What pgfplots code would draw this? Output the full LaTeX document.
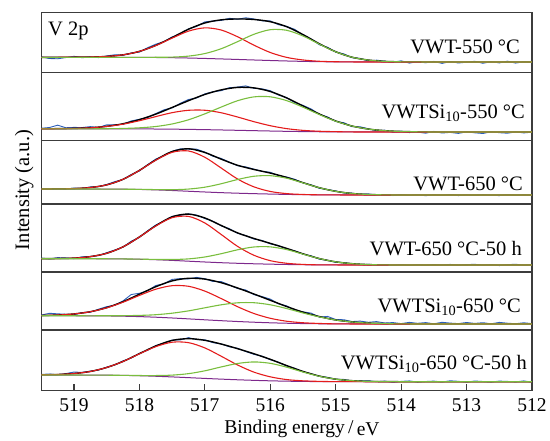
\documentclass[border=0pt]{standalone}
\usepackage{fontspec}
\setmainfont{Liberation Serif}
\usepackage{pgfplots}
\usepackage{pgfplotstable}
\pgfplotsset{compat=1.18}

\definecolor{datablue}{RGB}{45,95,185}
\definecolor{fitred}{RGB}{228,28,28}
\definecolor{fitgreen}{RGB}{122,190,62}
\definecolor{bgpurple}{RGB}{125,40,140}
\definecolor{framegray}{RGB}{60,60,60}

% fitted components per panel: E, Shirley background, red peak, green peak, envelope
\pgfplotstableread{
E bg red green fit
519.5 15.4 15.4 15.4 15.4
519.25 15.4 15.4 15.4 15.4
519.0 15.4 15.5 15.4 15.5
518.75 15.4 15.65 15.4 15.65
518.5 15.39 16.26 15.39 16.26
518.25 15.37 17.87 15.37 17.87
518.0 15.32 21.32 15.32 21.32
517.75 15.21 27.11 15.41 27.31
517.5 15.0 34.6 15.6 35.2
517.25 14.68 41.58 16.58 43.48
517.0 14.25 44.85 19.15 49.75
516.75 13.77 42.67 23.97 52.87
516.5 13.25 35.95 31.05 53.75
516.25 12.72 27.52 38.42 53.22
516.0 12.2 20.2 43.0 51.0
515.75 11.72 15.32 42.42 46.02
515.5 11.33 12.73 36.73 38.13
515.25 11.03 11.43 28.53 28.93
515.0 10.86 10.96 20.86 20.96
514.75 10.76 10.76 15.46 15.46
514.5 10.72 10.72 12.62 12.62
514.25 10.7 10.7 11.3 11.3
514.0 10.7 10.7 10.9 10.9
513.5 10.7 10.7 10.7 10.7
513.0 10.7 10.7 10.7 10.7
512.0 10.7 10.7 10.7 10.7
}\compA

\pgfplotstableread{
E bg red green fit
519.5 11.5 11.54 11.5 11.54
519.25 11.5 11.63 11.5 11.63
519.0 11.5 11.9 11.5 11.9
518.75 11.49 12.49 11.49 12.49
518.5 11.48 13.88 11.58 13.98
518.25 11.45 16.15 11.85 16.55
518.0 11.39 19.59 12.49 20.69
517.75 11.29 23.69 13.79 26.19
517.5 11.14 27.64 16.34 32.84
517.25 10.92 30.02 20.52 39.62
517.0 10.66 30.06 26.46 45.86
516.75 10.34 27.54 33.24 50.44
516.5 9.99 23.29 39.59 52.89
516.25 9.63 18.63 43.43 52.43
516.0 9.29 14.59 43.49 48.79
515.75 8.98 11.68 39.68 42.38
515.5 8.73 9.93 33.13 34.33
515.25 8.55 9.05 25.75 26.25
515.0 8.43 8.63 19.13 19.33
514.75 8.36 8.36 14.26 14.26
514.5 8.33 8.33 11.23 11.23
514.25 8.31 8.31 9.61 9.61
514.0 8.3 8.3 8.8 8.8
513.75 8.3 8.3 8.5 8.5
513.5 8.3 8.3 8.3 8.3
513.0 8.3 8.3 8.3 8.3
512.0 8.3 8.3 8.3 8.3
}\compB

\pgfplotstableread{
E bg red green fit
519.5 15 15 15 15
519.25 15 15.1 15 15.1
519.0 15 15.4 15 15.4
518.75 14.98 16.48 14.98 16.48
518.5 14.93 19.13 14.93 19.13
518.25 14.81 24.71 14.81 24.71
518.0 14.56 33.56 14.66 33.66
517.75 14.11 43.81 14.41 44.11
517.5 13.49 51.69 14.29 52.49
517.25 12.75 53.05 14.95 55.25
517.0 12.01 46.71 16.81 51.51
516.75 11.35 35.95 20.25 44.85
516.5 10.8 25.0 24.5 38.7
516.25 10.34 17.14 27.74 34.54
516.0 9.94 12.54 28.34 30.94
515.75 9.59 10.39 25.79 26.59
515.5 9.33 9.53 21.13 21.33
515.25 9.16 9.16 16.26 16.26
515.0 9.07 9.07 12.67 12.67
514.75 9.02 9.02 10.52 10.52
514.5 9.0 9.0 9.5 9.5
514.25 9.0 9.0 9.15 9.15
514.0 9.0 9.0 9.0 9.0
513.0 9.0 9.0 9.0 9.0
512.0 9.0 9.0 9.0 9.0
}\compC

\pgfplotstableread{
E bg red green fit
519.5 13.3 13.3 13.3 13.3
519.25 13.3 13.5 13.3 13.5
519.0 13.29 13.89 13.29 13.89
518.75 13.27 15.37 13.27 15.37
518.5 13.21 18.71 13.21 18.71
518.25 13.06 25.16 13.06 25.16
518.0 12.77 34.97 12.87 35.07
517.75 12.28 45.98 12.58 46.28
517.5 11.61 54.31 12.51 55.21
517.25 10.81 55.61 13.11 57.91
517.0 10.01 49.01 15.01 54.01
516.75 9.3 37.5 18.3 46.5
516.5 8.71 25.61 22.21 39.11
516.25 8.23 16.73 25.03 33.53
516.0 7.84 11.34 25.14 28.64
515.75 7.52 8.72 22.42 23.62
515.5 7.28 7.58 17.88 18.18
515.25 7.13 7.13 13.43 13.43
515.0 7.06 7.06 10.16 10.16
514.75 7.02 7.02 8.32 8.32
514.5 7.0 7.0 7.4 7.4
514.25 7.0 7.0 7.1 7.1
514.0 7.0 7.0 7.0 7.0
513.0 7.0 7.0 7.0 7.0
512.0 7.0 7.0 7.0 7.0
}\compD

\pgfplotstableread{
E bg red green fit
519.5 14.3 14.5 14.3 14.5
519.25 14.28 14.98 14.28 14.98
519.0 14.26 16.06 14.26 16.06
518.75 14.19 18.29 14.19 18.29
518.5 14.06 22.16 14.26 22.36
518.25 13.81 27.81 14.31 28.31
518.0 13.4 34.6 14.6 35.8
517.75 12.79 40.79 15.29 43.29
517.5 12.02 44.32 16.82 49.12
517.25 11.13 43.73 19.13 51.73
517.0 10.2 38.9 22.2 50.9
516.75 9.31 31.41 25.21 47.31
516.5 8.5 23.3 27.2 42.0
516.25 7.79 16.49 27.29 35.99
516.0 7.21 11.71 25.21 29.71
515.75 6.77 8.77 21.47 23.47
515.5 6.45 7.25 17.05 17.85
515.25 6.24 6.54 13.14 13.44
515.0 6.12 6.12 10.02 10.02
514.75 6.05 6.05 8.05 8.05
514.5 6.02 6.02 6.92 6.92
514.25 6.0 6.0 6.4 6.4
514.0 6.0 6.0 6.1 6.1
513.5 6.0 6.0 6.0 6.0
513.0 6.0 6.0 6.0 6.0
512.0 6.0 6.0 6.0 6.0
}\compE

\pgfplotstableread{
E bg red green fit
519.5 15.7 15.9 15.7 15.9
519.25 15.69 16.19 15.69 16.19
519.0 15.67 17.17 15.67 17.17
518.75 15.63 19.23 15.63 19.23
518.5 15.52 23.22 15.52 23.22
518.25 15.32 29.22 15.37 29.27
518.0 14.97 36.87 15.17 37.07
517.75 14.45 44.05 15.15 44.75
517.5 13.79 48.49 15.59 50.29
517.25 13.05 48.05 17.05 52.05
517.0 12.29 42.79 19.89 50.39
516.75 11.57 34.47 23.77 46.67
516.5 10.93 25.73 27.23 42.03
516.25 10.36 18.56 28.76 36.96
516.0 9.88 13.88 27.38 31.38
515.75 9.53 11.13 23.53 25.13
515.5 9.27 9.87 18.67 19.27
515.25 9.13 9.33 14.43 14.63
515.0 9.05 9.05 11.55 11.55
514.75 9.02 9.02 10.02 10.02
514.5 9.0 9.0 9.3 9.3
514.25 9.0 9.0 9.1 9.1
514.0 9.0 9.0 9.0 9.0
513.0 9.0 9.0 9.0 9.0
512.0 9.0 9.0 9.0 9.0
}\compF

% measured spectra, one column per panel (top to bottom)
\pgfplotstableread{
E pa pb pc pd pe pf
519.5 15.8 12.04 15.3 13.9 15.0 16.3
519.375 14.2 12.78 14.53 13.08 16.7 16.7
519.25 13.9 15.13 15.3 14.4 16.18 15.89
519.125 15.15 12.55 14.8 14.05 15.75 17.1
519.0 16.4 12.9 15.9 13.39 15.26 18.67
518.875 14.97 12.75 15.65 15.2 17.5 18.3
518.75 15.85 13.69 17.08 15.57 17.79 19.63
518.625 15.1 12.85 17.3 16.4 20.8 20.6
518.5 16.76 15.48 19.53 19.31 23.36 23.52
518.375 17.95 15.6 22.4 22.0 24.8 25.8
518.25 17.47 15.95 24.51 24.96 29.11 29.87
518.125 19.7 19.4 29.5 30.8 35.5 32.7
518.0 20.62 20.99 33.06 34.57 36.7 37.27
517.875 25.0 22.7 39.3 41.2 39.2 40.4
517.75 28.51 26.69 44.91 46.98 44.49 45.15
517.625 31.0 30.5 48.2 50.8 46.2 47.3
517.5 35.8 32.44 52.69 55.71 50.62 50.59
517.375 38.5 37.0 55.1 56.6 51.4 50.8
517.25 43.88 40.82 54.95 58.11 51.03 53.05
517.125 46.3 42.3 54.8 56.9 52.6 51.1
517.0 50.85 46.46 51.91 53.51 51.3 50.89
516.875 51.7 48.5 47.7 50.7 48.5 48.0
516.75 52.27 49.64 45.55 46.2 48.41 46.77
516.625 54.4 52.6 41.8 43.3 45.1 43.9
516.5 53.45 53.19 38.3 38.71 41.5 42.43
516.375 54.9 54.4 37.1 36.4 40.0 39.2
516.25 53.72 52.03 34.84 32.93 35.39 36.36
516.125 51.9 51.4 32.6 31.5 33.4 34.5
516.0 51.8 49.59 31.74 28.14 30.91 30.98
515.875 48.0 45.2 28.4 26.5 26.2 28.5
515.75 46.32 42.78 26.99 22.92 24.17 24.63
515.625 43.3 37.5 24.7 21.1 19.7 22.4
515.5 37.33 34.93 21.03 17.78 18.15 18.77
515.375 33.7 31.3 19.2 16.2 16.9 17.0
515.25 27.93 25.95 15.66 12.83 12.84 14.23
515.125 25.4 23.4 14.5 11.7 13.6 13.4
515.0 20.66 18.83 13.07 9.66 10.52 11.35
514.875 18.8 17.6 11.0 9.5 10.25 11.3
514.75 14.96 13.56 10.82 8.02 8.45 9.72
514.625 14.3 13.5 9.65 7.2 8.9 10.0
514.5 11.72 11.53 10.1 7.7 7.72 10.0
514.375 12.55 9.5 8.9 6.82 8.4 8.98
514.25 11.5 10.11 9.35 7.3 7.0 9.6
514.125 10.45 7.95 8.45 6.53 7.42 8.43
514.0 11.9 9.2 9.4 7.3 6.4 9.3
513.875 9.6 7.72 8.5 6.5 7.65 9.8
513.75 11.05 8.2 9.3 7.2 6.7 8.6
513.625 9.9 7.1 8.3 6.6 7.4 9.2
513.5 11.3 8.9 9.2 7.5 6.2 9.6
513.375 9.3 7.3 8.6 6.8 7.7 8.7
513.25 11.2 7.9 9.5 7.6 6.9 9.9
513.125 9.7 6.9 8.4 6.7 6.4 9.4
513.0 10.5 8.5 9.1 7.4 7.5 8.5
512.875 11.4 7.5 8.5 7.7 6.6 9.7
512.75 9.4 6.8 9.4 6.8 7.3 9.2
512.625 11.1 8.6 8.7 7.5 6.2 8.6
512.5 9.8 7.6 8.4 6.4 7.6 9.6
512.375 11.5 7.1 9.3 7.3 6.8 9.3
512.25 9.6 8.4 8.6 7.8 6.3 8.8
512.125 11.0 7.4 9.2 6.6 7.2 9.8
512.0 10.1 8.1 8.5 7.2 6.4 8.5
}\spectra

\newcommand{\labfont}{\fontsize{20.5}{24}\selectfont}
\newcommand{\axfont}{\fontsize{19.5}{23}\selectfont}

\pgfplotsset{
  panel/.style={
    scale only axis, width=490.7pt,
    xmin=512, xmax=519.5, x dir=reverse, ymin=0,
    axis line style={draw=framegray, line width=1.3pt},
    xtick=\empty, ytick=\empty,
  },
  raw/.style={datablue, line width=0.9pt},
  env/.style={black, line width=1.4pt, smooth},
  pkred/.style={fitred, line width=1.1pt, smooth},
  pkgreen/.style={fitgreen, line width=1.1pt, smooth},
  shirley/.style={bgpurple, line width=1.0pt, smooth},
}

% one panel: #1 component table, #2 spectrum column
\newcommand{\panelplots}[2]{%
  \addplot[raw] table[x=E, y=#2] {\spectra};
  \addplot[env] table[x=E, y=fit] {#1};
  \addplot[shirley] table[x=E, y=bg] {#1};
  \addplot[pkred] table[x=E, y=red] {#1};
  \addplot[pkgreen] table[x=E, y=green] {#1};
}

\begin{document}
\begin{tikzpicture}
\useasboundingbox (0,0) rectangle (550pt,-440pt);

\begin{axis}[panel, height=60pt, ymax=60, at={(41.3pt,-72.7pt)}, anchor=south west]
\panelplots{\compA}{pa}
\end{axis}

\begin{axis}[panel, height=67.6pt, ymax=67.6, at={(41.3pt,-140.3pt)}, anchor=south west]
\panelplots{\compB}{pb}
\end{axis}

\begin{axis}[panel, height=63.7pt, ymax=63.7, at={(41.3pt,-204pt)}, anchor=south west]
\panelplots{\compC}{pc}
\end{axis}

\begin{axis}[panel, height=68pt, ymax=68, at={(41.3pt,-272pt)}, anchor=south west]
\panelplots{\compD}{pd}
\end{axis}

\begin{axis}[panel, height=58pt, ymax=58, at={(41.3pt,-330pt)}, anchor=south west]
\panelplots{\compE}{pe}
\end{axis}

\begin{axis}[panel, height=60.7pt, ymax=60.7, at={(41.3pt,-390.7pt)}, anchor=south west,
  xtick={512,513,...,519}, xtick pos=left, tick align=inside,
  major tick length=7pt,
  every tick/.style={draw=framegray, line width=1.1pt},
  xticklabel style={font=\axfont, inner sep=0pt, yshift=-8pt},
  /pgf/number format/assume math mode=true]
\panelplots{\compF}{pf}
\end{axis}

% panel captions
\begin{scope}[every node/.style={inner sep=0pt, font=\labfont}]
\node[anchor=base west] at (48pt,-35pt) {V 2p};
\node[anchor=base east] at (520pt,-53pt) {VWT-550 °C};
\node[anchor=base east] at (525pt,-118pt) {VWTSi\textsubscript{10}-550 °C};
\node[anchor=base east] at (523pt,-190pt) {VWT-650 °C};
\node[anchor=base east] at (522pt,-255pt) {VWT-650 °C-50 h};
\node[anchor=base east] at (521pt,-312pt) {VWTSi\textsubscript{10}-650 °C};
\node[anchor=base east] at (527pt,-369.5pt) {VWTSi\textsubscript{10}-650 °C-50 h};
\node[anchor=base, font=\axfont] at (302pt,-433.5pt) {Binding energy\,/\,\raisebox{-1.5pt}{eV}};
\node[anchor=base, rotate=90] at (29pt,-190pt) {Intensity (a.u.)};
\end{scope}
\end{tikzpicture}
\end{document}
